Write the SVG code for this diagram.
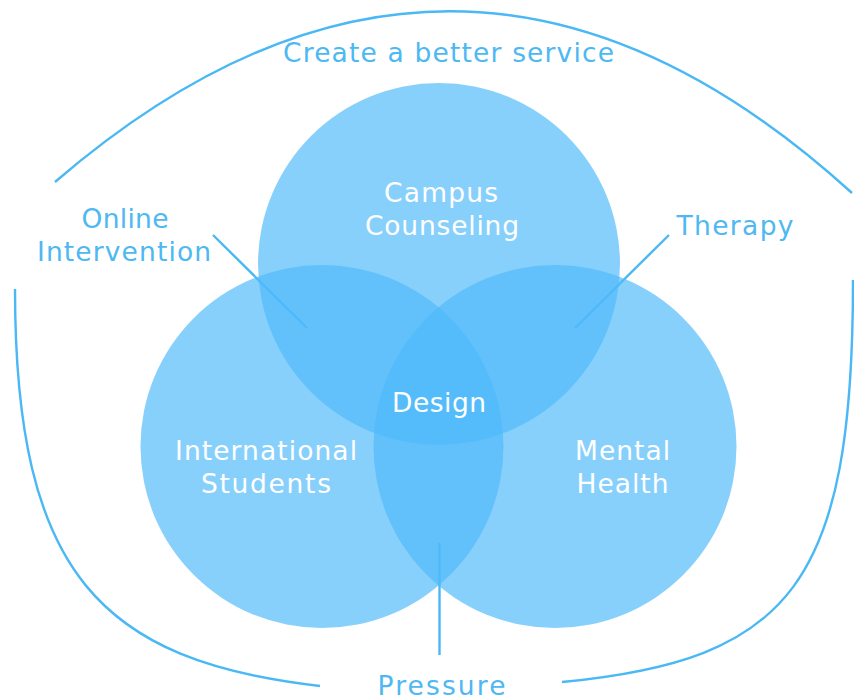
<svg xmlns="http://www.w3.org/2000/svg" width="854" height="700" viewBox="0 0 854 700">
  <style>
    .frame { fill: none; stroke: #4ab8f4; stroke-width: 2.4; stroke-linecap: butt; }
    .link { fill: none; stroke: #4ab8f4; stroke-width: 2.4; }
    .set { fill: #4fbafa; fill-opacity: 0.68; }
    .outer { font-family: "DejaVu Sans", "Liberation Sans", sans-serif; font-size: 26.5px; fill: #4db8f2; text-anchor: middle; }
    .inner { font-family: "DejaVu Sans", "Liberation Sans", sans-serif; font-size: 26.5px; fill: #ffffff; text-anchor: middle; }
  </style>
  <rect width="854" height="700" fill="#ffffff"/>

  <!-- enclosing frame: upper arch and lower cup -->
  <g id="frame">
    <path class="frame" d="M55,182 Q458,-165 852,193"/>
    <path class="frame" d="M15,289 C15,575 102,661 320,686"/>
    <path class="frame" d="M853,280 C853,585 790,660 562,682"/>
  </g>

  <!-- leader lines, drawn under the translucent sets -->
  <g id="connectors">
    <line class="link" x1="213" y1="235" x2="307" y2="328"/>
    <line class="link" x1="669" y1="235" x2="575" y2="328"/>
    <line class="link" x1="439.5" y1="543" x2="439.5" y2="655"/>
  </g>

  <g id="campus-counseling">
    <circle class="set" cx="439" cy="264" r="181"/>
  </g>
  <g id="international-students">
    <circle class="set" cx="322" cy="446.5" r="181.5"/>
  </g>
  <g id="mental-health">
    <circle class="set" cx="555" cy="446.5" r="181.5"/>
  </g>

  <g id="labels-inner">
    <text class="inner" x="441" y="202" textLength="114">Campus</text>
    <text class="inner" x="442" y="235" textLength="154">Counseling</text>
    <text class="inner" x="439" y="412" textLength="94">Design</text>
    <text class="inner" x="266" y="460" textLength="182">International</text>
    <text class="inner" x="266" y="493" textLength="130">Students</text>
    <text class="inner" x="622.5" y="460" textLength="95">Mental</text>
    <text class="inner" x="622.5" y="493" textLength="92">Health</text>
  </g>

  <g id="labels-outer">
    <text class="outer" x="448.5" y="62" textLength="331">Create a better service</text>
    <text class="outer" x="125" y="228" textLength="87">Online</text>
    <text class="outer" x="124" y="261" textLength="174">Intervention</text>
    <text class="outer" x="735" y="235" textLength="117">Therapy</text>
    <text class="outer" x="441.5" y="695" textLength="128">Pressure</text>
  </g>
</svg>
